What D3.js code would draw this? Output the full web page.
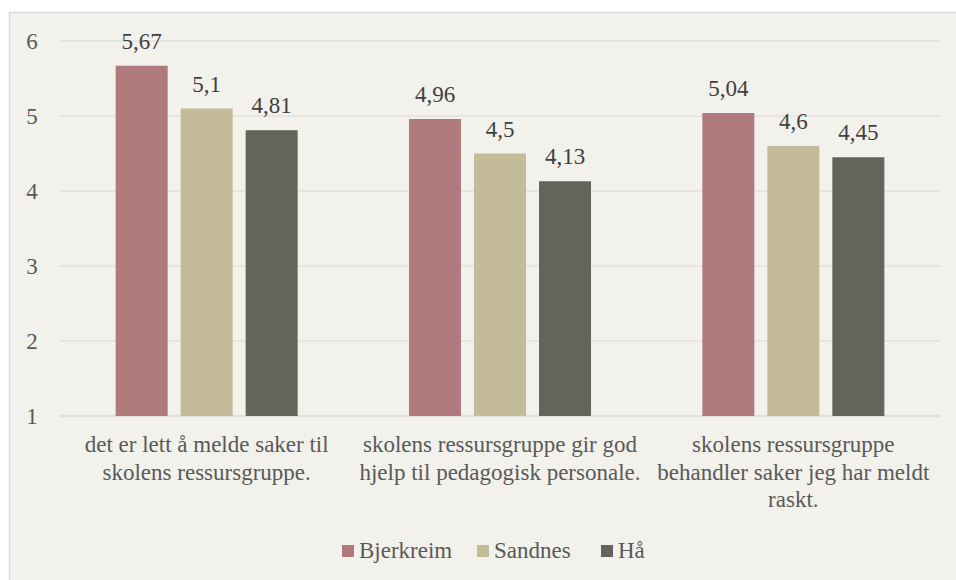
<!DOCTYPE html>
<html><head><meta charset="utf-8">
<script src="https://cdn.jsdelivr.net/npm/d3@7"></script></head>
<body style="margin:0">
<script>
// data
const categories = [
  ["det er lett å melde saker til", "skolens ressursgruppe."],
  ["skolens ressursgruppe gir god", "hjelp til pedagogisk personale."],
  ["skolens ressursgruppe", "behandler saker jeg har meldt", "raskt."]
];
const seriesNames = ["Bjerkreim", "Sandnes", "Hå"];
const bjerkreim = [5.67, 4.96, 5.04];
const sandnes = [5.1, 4.5, 4.6];
const haa = [4.81, 4.13, 4.45];
const yTicks = [1, 2, 3, 4, 5, 6];
const colors = ["#b07a7d", "#c4bb98", "#63645a"];

const allSeries = [bjerkreim, sandnes, haa];

const W = 956, H = 580;
const margin = { left: 60, right: 16, top: 41, bottom: 164 };
const FONT = "'Liberation Serif'";
const fs = 23;

const svg = d3.select("body").append("svg")
  .attr("width", W)
  .attr("height", H)
  .style("font-family", FONT);

// chart area background + border
svg.append("rect")
  .attr("x", 9.5).attr("y", 12.5)
  .attr("width", W + 10).attr("height", H + 10)
  .attr("fill", "#f2f1eb")
  .attr("stroke", "#d9d9d9")
  .attr("stroke-width", 1.5);

const x = d3.scaleBand()
  .domain(d3.range(categories.length))
  .range([margin.left, W - margin.right])
  .paddingInner(0).paddingOuter(0);

const y = d3.scaleLinear()
  .domain([1, 6])
  .range([H - margin.bottom, margin.top]);

const barW = 52, barStep = 65;

// gridlines
svg.append("g").selectAll("line")
  .data(yTicks)
  .join("line")
  .attr("x1", margin.left).attr("x2", W - margin.right)
  .attr("y1", d => y(d)).attr("y2", d => y(d))
  .attr("stroke", "#d9d9d9")
  .attr("stroke-width", d => d === 1 ? 1.5 : 1.2);

// y tick labels
svg.append("g").selectAll("text")
  .data(yTicks)
  .join("text")
  .attr("x", 32)
  .attr("y", d => y(d))
  .attr("dy", "0.33em")
  .attr("text-anchor", "middle")
  .attr("font-family", FONT)
  .attr("font-size", fs)
  .attr("fill", "#595959")
  .text(d => d);

// bars
const groups = svg.append("g").selectAll("g")
  .data(categories)
  .join("g")
  .attr("transform", (d, i) => {
    const cx = x(i) + x.bandwidth() / 2;
    return "translate(" + (cx - (barStep * 2 + barW) / 2) + ",0)";
  });

allSeries.forEach((vals, s) => {
  groups.append("rect")
    .attr("x", s * barStep)
    .attr("y", (d, i) => y(vals[i]))
    .attr("width", barW)
    .attr("height", (d, i) => y(1) - y(vals[i]))
    .attr("fill", colors[s]);

  groups.append("text")
    .attr("x", s * barStep + barW / 2)
    .attr("y", (d, i) => y(vals[i]) - 17)
    .attr("text-anchor", "middle")
    .attr("font-family", FONT)
    .attr("font-size", fs)
    .attr("fill", "#404040")
    .text((d, i) => String(vals[i]).replace(".", ","));
});

// category labels
svg.append("g").selectAll("text")
  .data(categories)
  .join("text")
  .attr("x", (d, i) => x(i) + x.bandwidth() / 2)
  .attr("y", 452)
  .attr("text-anchor", "middle")
  .attr("font-family", FONT)
  .attr("font-size", fs)
  .attr("fill", "#595959")
  .each(function(lines) {
    d3.select(this).selectAll("tspan")
      .data(lines)
      .join("tspan")
      .attr("x", d3.select(this).attr("x"))
      .attr("dy", (l, k) => k === 0 ? 0 : 27.5)
      .text(l => l);
  });

// legend
const legendX = [342, 477, 601];
const legend = svg.append("g").selectAll("g")
  .data(seriesNames)
  .join("g")
  .attr("transform", (d, i) => "translate(" + legendX[i] + ",545)");

legend.append("rect")
  .attr("width", 12).attr("height", 12)
  .attr("fill", (d, i) => colors[i]);

legend.append("text")
  .attr("x", 17)
  .attr("y", 12.5)
  .attr("font-family", FONT)
  .attr("font-size", fs)
  .attr("fill", "#595959")
  .text(d => d);
</script>
</body>
</html>
